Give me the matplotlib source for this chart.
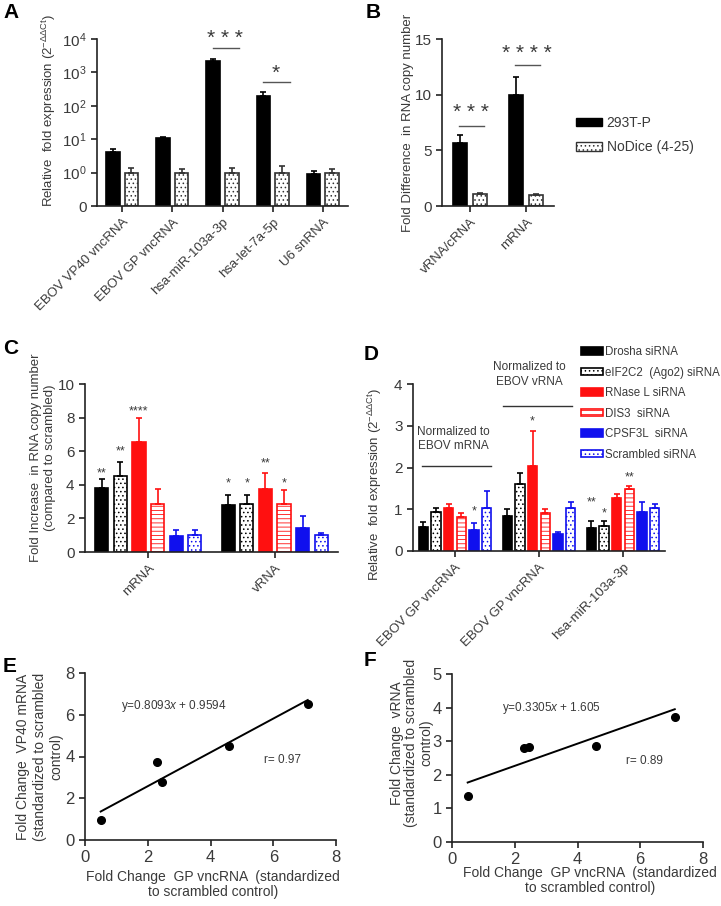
import numpy as np
import matplotlib
matplotlib.use('Agg')
import matplotlib.pyplot as plt
from matplotlib.patches import Patch

plt.rcParams['font.family'] = ['Liberation Sans', 'DejaVu Sans']
plt.rcParams['mathtext.fontset'] = 'custom'
plt.rcParams['mathtext.rm'] = 'Liberation Sans'
plt.rcParams['mathtext.it'] = 'Liberation Sans:italic'
plt.rcParams['hatch.linewidth'] = 0.6
plt.rcParams['text.color'] = '#3a3a3a'
plt.rcParams['axes.labelcolor'] = '#3a3a3a'
plt.rcParams['xtick.labelcolor'] = '#3a3a3a'
plt.rcParams['ytick.labelcolor'] = '#3a3a3a'
plt.rcParams['axes.edgecolor'] = '#222222'
plt.rcParams['xtick.color'] = '#222222'
plt.rcParams['ytick.color'] = '#222222'

# ---- panel A ----
a_targets = ['EBOV VP40 vncRNA', 'EBOV GP vncRNA', 'hsa-miR-103a-3p', 'hsa-let-7a-5p', 'U6 snRNA']
a_wt = [4.1, 11.0, 2250, 190, 0.93]
a_wt_sd = [0.9, 0.8, 200, 75, 0.22]
a_ko = [1.0, 1.0, 1.0, 1.0, 1.0]
a_ko_sd = [0.4, 0.3, 0.4, 0.55, 0.3]
a_yticks = [0.1, 1, 10, 100, 1000, 10000]
a_yticklabels = ['0', '$10^0$', '$10^1$', '$10^2$', '$10^3$', '$10^4$']

# ---- panel B ----
b_groups = ['vRNA/cRNA', 'mRNA']
b_wt = [5.7, 9.95]
b_wt_sd = [0.7, 1.6]
b_ko = [1.1, 1.0]
b_ko_sd = [0.08, 0.12]
b_legend = ['293T-P', 'NoDice (4-25)']

# ---- panel C ----
c_groups = ['mRNA', 'vRNA']
c_sirna = ['Drosha siRNA', 'eIF2C2  (Ago2) siRNA', 'RNase L siRNA',
           'DIS3  siRNA', 'CPSF3L  siRNA', 'Scrambled siRNA']
c_vals = [[3.8, 2.8], [4.5, 2.88], [6.55, 3.73], [2.83, 2.83], [0.96, 1.42], [1.03, 1.02]]
c_sd = [[0.55, 0.57], [0.88, 0.5], [1.42, 0.95], [0.9, 0.88], [0.37, 0.75], [0.3, 0.1]]
c_stars = [(0, 0, '**', 4.9), (1, 0, '**', 6.25), (2, 0, '****', 8.6),
           (0, 1, '*', 4.35), (1, 1, '*', 4.35), (2, 1, '**', 5.5), (3, 1, '*', 4.35)]

# ---- panel D ----
d_groups = ['EBOV GP vncRNA', 'EBOV GP vncRNA', 'hsa-miR-103a-3p']
d_vals = [[0.57, 0.83, 0.55], [0.93, 1.6, 0.6], [1.04, 2.04, 1.27],
          [0.81, 0.9, 1.49], [0.5, 0.41, 0.93], [1.02, 1.03, 1.03]]
d_sd = [[0.12, 0.17, 0.17], [0.09, 0.27, 0.12], [0.09, 0.83, 0.1],
        [0.09, 0.1, 0.07], [0.17, 0.05, 0.24], [0.42, 0.14, 0.1]]
d_stars = [(4, 0, '*', 1.05), (2, 1, '*', 3.2), (0, 2, '**', 1.27),
           (1, 2, '*', 1.0), (3, 2, '**', 1.87)]

# ---- panels E, F ----
e_x = [0.5, 2.3, 2.45, 4.6, 7.1]
e_y = [0.95, 3.75, 2.78, 4.5, 6.52]
e_fit = (0.8093, 0.9594)
f_x = [0.5, 2.3, 2.45, 4.6, 7.1]
f_y = [1.38, 2.8, 2.82, 2.86, 3.72]
f_fit = (0.3305, 1.605)

RED = '#ff1010'
BLUE = '#1010ee'
styles = [dict(facecolor='black', edgecolor='black', hatch=None),
          dict(facecolor='white', edgecolor='black', hatch='....'),
          dict(facecolor=RED, edgecolor=RED, hatch=None),
          dict(facecolor='white', edgecolor=RED, hatch='----'),
          dict(facecolor=BLUE, edgecolor=BLUE, hatch=None),
          dict(facecolor='white', edgecolor=BLUE, hatch='....')]

W, H = 721, 906
fig = plt.figure(figsize=(W / 100, H / 100), dpi=100)


def box(x0, y0, x1, y1):
    return fig.add_axes([x0 / W, 1 - y1 / H, (x1 - x0) / W, (y1 - y0) / H])


def clean(ax, fs=10.5):
    for s in ['top', 'right']:
        ax.spines[s].set_visible(False)
    for s in ['left', 'bottom']:
        ax.spines[s].set_linewidth(1.2)
    ax.tick_params(direction='out', length=4, width=1.2, labelsize=fs)


def star(ax, x, y, s, fs=9):
    ax.annotate(s, (x, y), xytext=(0, -0.58 * fs), textcoords='offset points',
                ha='center', va='baseline', fontsize=fs, annotation_clip=False)


def bars(ax, x, vals, sds, st, width, log=False):
    vals = np.array(vals)
    bottom = 0.1 if log else 0
    ax.bar(x, vals - bottom, width, bottom=bottom, facecolor=st['facecolor'],
           edgecolor=st['edgecolor'], hatch=st['hatch'], linewidth=1.2)
    ax.errorbar(x, vals, yerr=[np.zeros(len(vals)), sds], fmt='none',
                ecolor=st['edgecolor'], elinewidth=1.2, capsize=2.5, capthick=1.2)


def panel_label(x, y, s):
    fig.text(x / W, 1 - y / H, s, fontsize=15, fontweight='bold', color='black',
             ha='left', va='center')


# A
ax = box(97, 39, 348, 206)
clean(ax, 11)
ax.set_yscale('log')
x = np.arange(len(a_targets))
bars(ax, x - 0.185, a_wt, a_wt_sd, styles[0], 0.27, log=True)
st = dict(styles[1]); st['edgecolor'] = '#333333'
bars(ax, x + 0.185, a_ko, a_ko_sd, st, 0.27, log=True)
ax.set_ylim(0.1, 1e4)
ax.set_xlim(-0.5, 4.5)
ax.set_yticks(a_yticks)
ax.set_yticklabels(a_yticklabels)
ax.minorticks_off()
ax.set_xticks(x)
ax.set_xticklabels(a_targets, rotation=45, ha='right', rotation_mode='anchor', fontsize=9.5)
ax.set_ylabel('Relative  fold expression ($\\mathrm{2^{-\\Delta\\Delta Ct}}$)', fontsize=9.5)
ax.yaxis.set_label_coords(-0.155, 0.57)
ax.plot([1.81, 2.33], [5400, 5400], color='#555555', lw=1, clip_on=False)
star(ax, 2.05, 16000, '* * *', 15)
ax.plot([2.81, 3.34], [515, 515], color='#555555', lw=1, clip_on=False)
star(ax, 3.05, 1450, '*', 15)
panel_label(3, 12, 'A')

# B
ax = box(442, 39, 554, 206)
clean(ax, 11)
x = np.arange(len(b_groups))
bars(ax, x - 0.18, b_wt, b_wt_sd, styles[0], 0.25)
bars(ax, x + 0.18, b_ko, b_ko_sd, st, 0.25)
ax.set_ylim(0, 15)
ax.set_xlim(-0.5, 1.5)
ax.set_yticks([0, 5, 10, 15])
ax.set_xticks(x)
ax.set_xticklabels(b_groups, rotation=45, ha='right', rotation_mode='anchor', fontsize=9.5)
ax.set_ylabel('Fold Difference  in RNA copy number', fontsize=9.5)
ax.yaxis.set_label_coords(-0.25, 0.5)
ax.plot([-0.2, 0.25], [7.2, 7.2], color='#555555', lw=1)
star(ax, 0.02, 9.0, '* * *', 15)
ax.plot([0.8, 1.25], [12.65, 12.65], color='#555555', lw=1)
star(ax, 1.02, 14.3, '* * * *', 15)
handles = [Patch(facecolor='black', edgecolor='black'),
           Patch(facecolor='white', edgecolor='#333333', hatch='....')]
ax.legend(handles, b_legend, loc='upper left', bbox_to_anchor=(576 / W, 1 - 116 / H),
          bbox_transform=fig.transFigure, frameon=False, fontsize=10,
          handlelength=1.9, handleheight=0.55, handletextpad=0.3, labelspacing=0.75,
          borderpad=0, borderaxespad=0)
panel_label(366, 12, 'B')

# C
ax = box(85, 384, 338, 552)
clean(ax, 11)
x = np.arange(len(c_groups))
step = 0.147
for i in range(6):
    bars(ax, x + (i - 2.5) * step, c_vals[i], c_sd[i], styles[i], 0.105)
for i, g, s, y in c_stars:
    star(ax, g + (i - 2.5) * step, y, s, 9)
ax.set_ylim(0, 10)
ax.set_xlim(-0.5, 1.5)
ax.set_yticks(range(0, 11, 2))
ax.set_xticks(x)
ax.set_xticklabels(c_groups, rotation=45, ha='right', rotation_mode='anchor', fontsize=9.5)
ax.set_ylabel('Fold Increase  in RNA copy number\n(compared to scrambled)', fontsize=9.5)
ax.yaxis.set_label_coords(-0.115, 0.56)
panel_label(3, 348, 'C')

# D
ax = box(413, 384, 665, 551)
clean(ax, 11)
x = np.arange(len(d_groups))
step = 0.151
for i in range(6):
    bars(ax, x + (i - 2.5) * step, d_vals[i], d_sd[i], styles[i], 0.11)
for i, g, s, y in d_stars:
    star(ax, g + (i - 2.5) * step, y, s, 9)
ax.set_ylim(0, 4)
ax.set_xlim(-0.5, 2.5)
ax.set_yticks(range(0, 5))
ax.set_xticks(x)
ax.set_xticklabels(d_groups, rotation=45, ha='right', rotation_mode='anchor', fontsize=9.5)
ax.set_ylabel('Relative  fold expression ($\\mathrm{2^{-\\Delta\\Delta Ct}}$)', fontsize=9.5)
ax.yaxis.set_label_coords(-0.115, 0.4)
ax.plot([-0.39, 0.43], [2.04, 2.04], color='#333333', lw=1)
ax.text(-0.02, 2.68, 'Normalized to\nEBOV mRNA', ha='center', va='center', fontsize=8.5,
        linespacing=1.3)
ax.plot([0.57, 1.39], [3.48, 3.48], color='#333333', lw=1, clip_on=False)
ax.text(0.88, 4.22, 'Normalized to\nEBOV vRNA', ha='center', va='center', fontsize=8.5,
        linespacing=1.3, clip_on=False)
handles = [Patch(facecolor=s['facecolor'], edgecolor=s['edgecolor'], hatch=s['hatch'],
                 linewidth=1.2) for s in styles]
ax.legend(handles, c_sirna, loc='upper left', bbox_to_anchor=(581 / W, 1 - 346 / H),
          bbox_transform=fig.transFigure, frameon=False, fontsize=8.3,
          handlelength=1.9, handleheight=0.6, handletextpad=0.15, labelspacing=0.74,
          borderpad=0, borderaxespad=0)
panel_label(364, 355, 'D')


# E, F
def scatter_panel(ax, xs, ys, fit, ymax, eq_pos, r_pos, eq, r, ylabel, ylab_xy, xlab_xy, yls):
    clean(ax, 12)
    ax.plot(xs, ys, 'o', color='black', markersize=5.5)
    lx = np.array([min(xs), max(xs)])
    ax.plot(lx, fit[0] * lx + fit[1], color='black', lw=1.4)
    ax.set_xlim(0, 8)
    ax.set_ylim(0, ymax)
    ax.set_xticks(range(0, 9, 2))
    ax.text(*eq_pos, eq, fontsize=8.5, va='center')
    ax.text(*r_pos, r, fontsize=8.5, va='center')
    ax.set_ylabel(ylabel, fontsize=10, linespacing=yls)
    ax.yaxis.set_label_coords(*ylab_xy)
    ax.set_xlabel('Fold Change  GP vncRNA  (standardized\nto scrambled control)',
                  fontsize=10, linespacing=1.05)
    ax.xaxis.set_label_coords(*xlab_xy)


ax = box(85, 673, 336, 840)
scatter_panel(ax, e_x, e_y, e_fit, 8, (1.15, 6.4), (5.72, 3.83),
              'y=0.8093$\\mathit{x}$ + 0.9594', 'r= 0.97',
              'Fold Change  VP40 mRNA\n(standardized to scrambled\ncontrol)',
              (-0.085, 0.5), (0.51, -0.18), 1.25)
ax.set_yticks(range(0, 9, 2))
panel_label(3, 667, 'E')

ax = box(452, 674, 703, 842)
scatter_panel(ax, f_x, f_y, f_fit, 5, (1.6, 3.98), (5.55, 2.4),
              'y=0.3305$\\mathit{x}$ + 1.605', 'r= 0.89',
              'Fold Change  vRNA\n(standardized to scrambled\ncontrol)',
              (-0.076, 0.59), (0.55, -0.143), 1.05)
ax.set_yticks(range(0, 6))
panel_label(364, 661, 'F')

fig.savefig('out.png', dpi=100)
